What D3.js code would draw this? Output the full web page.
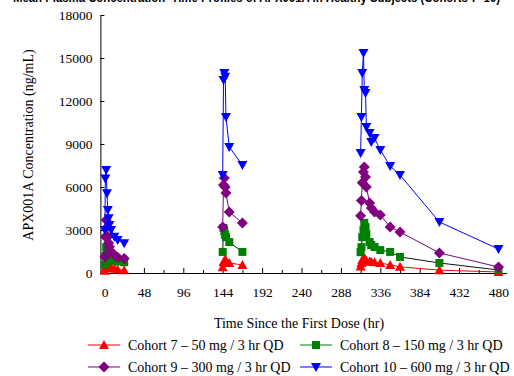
<!DOCTYPE html>
<html>
<head>
<meta charset="utf-8">
<script src="https://cdn.jsdelivr.net/npm/d3@7"></script>
<style>
  body { margin: 0; background: #fff; }
  svg { display: block; }
</style>
</head>
<body>
<svg id="chart"></svg>
<script>
// sampling times (hr since first dose), one list per dosing day
const day1Times = [0.5, 1, 2, 3, 4, 5, 6, 8, 12, 16, 24];
const day7Times = [144, 145, 146, 147, 148, 152, 168];
const day14Times = [312, 313, 314, 315.5, 316.5, 318, 319, 323, 325, 329, 336, 348, 360, 408, 480];

// cohort 7 - 50 mg
const c7Day1 = [150, 350, 500, 650, 600, 550, 450, 400, 300, 250, 200];
const c7Day7 = [400, 750, 850, 900, 880, 700, 560];
const c7Day14 = [450, 700, 900, 1000, 1050, 950, 850, 800, 780, 750, 700, 560, 430, 200, 70];
// cohort 8 - 150 mg
const c8Day1 = [600, 1200, 1800, 1600, 1400, 1250, 1100, 950, 850, 800, 750];
const c8Day7 = [1470, 3140, 2900, 2650, 2500, 2160, 1470];
const c8Day14 = [1450, 1800, 2500, 3000, 3500, 3200, 2700, 2160, 1950, 1810, 1600, 1470, 1120, 700, 210];
// cohort 9 - 300 mg
const c9Day1 = [1140, 2530, 3700, 3200, 2530, 2100, 1840, 1500, 1260, 1100, 1020];
const c9Day7 = [3210, 6140, 6630, 6000, 5580, 4260, 3490];
const c9Day14 = [4000, 5050, 6300, 7050, 7400, 6700, 6000, 4880, 4530, 4260, 4050, 3210, 2860, 1400, 420];
// cohort 10 - 600 mg
const c10Day1 = [3000, 6600, 7190, 5560, 4400, 3820, 3350, 3000, 2530, 2300, 2070];
const c10Day7 = [6840, 13470, 13950, 13700, 10880, 8790, 7530];
const c10Day14 = [8370, 10880, 13950, 15350, 12770, 12560, 10190, 9770, 9140, 9420, 8580, 7460, 6840, 3560, 1670];

const seriesNames = ["Cohort 7 \u2013 50 mg / 3 hr QD", "Cohort 8 \u2013 150 mg / 3 hr QD",
  "Cohort 9 \u2013 300 mg / 3 hr QD", "Cohort 10 \u2013 600 mg / 3 hr QD"];
const seriesValues = [
  [c7Day1, c7Day7, c7Day14],
  [c8Day1, c8Day7, c8Day14],
  [c9Day1, c9Day7, c9Day14],
  [c10Day1, c10Day7, c10Day14]
];
const xTicks = [0, 48, 96, 144, 192, 240, 288, 336, 384, 432, 480];
const yTicks = [0, 3000, 6000, 9000, 12000, 15000, 18000];

const width = 514;
const height = 376;
const colors = ["#ff0000", "#008000", "#800080", "#0000ff"];
const lineColors = ["#ff0000", "#111111", "#800080", "#0000ff"];
const serif = "'Liberation Serif', 'Times New Roman', serif";

const svg = d3.select("#chart").attr("width", width).attr("height", height);

// title (cut off at the top in the original)
svg.append("text")
  .attr("x", 13).attr("y", 2)
  .attr("textLength", 487).attr("lengthAdjust", "spacingAndGlyphs")
  .attr("font-family", "'Liberation Sans', Arial, sans-serif")
  .attr("font-weight", "bold").attr("font-size", 13)
  .text("Mean Plasma Concentration\u2013Time Profiles of APX001A in Healthy Subjects (Cohorts 7\u201310)");

const xScale = d3.scaleLinear().domain([-5, 490]).range([100.4, 506.7]);
const yScale = d3.scaleLinear().domain([0, 18000]).range([273, 15]);

// x axis with inside ticks (major 48, minor 24)
const gx = svg.append("g").attr("transform", `translate(0,${yScale(0)})`);
gx.call(d3.axisBottom(xScale).tickValues(d3.range(24, 490, 48)).tickSize(-3).tickFormat(""));
gx.call(g => g.select(".domain").remove());
const gx2 = svg.append("g").attr("transform", `translate(0,${yScale(0)})`);
gx2.call(d3.axisBottom(xScale).tickValues(xTicks).tickSizeInner(-5).tickSizeOuter(0).tickPadding(14));
gx2.selectAll("text").attr("font-family", serif).attr("font-size", 13.5).attr("fill", "#000");
svg.selectAll(".tick line").attr("stroke", "#000");

// y axis
const gy = svg.append("g").attr("transform", `translate(${xScale(-5)},0)`);
gy.call(d3.axisLeft(yScale).tickValues(yTicks).tickSizeInner(-4).tickSizeOuter(0).tickPadding(8).tickFormat(d3.format("d")));
gy.selectAll("text").attr("font-family", serif).attr("font-size", 13.5).attr("fill", "#000");
gy.selectAll(".tick line").attr("stroke", "#000");
svg.selectAll(".domain").attr("stroke", "#000");

// axis titles
svg.append("text")
  .attr("x", 299).attr("y", 328)
  .attr("text-anchor", "middle")
  .attr("font-family", serif).attr("font-size", 14)
  .text("Time Since the First Dose (hr)");
svg.append("text")
  .attr("transform", "translate(33,145) rotate(-90)")
  .attr("text-anchor", "middle")
  .attr("font-family", serif).attr("font-size", 14)
  .text("APX001A Concentration (ng/mL)");

// marker shapes
const markers = [
  "M0,-5L5,4L-5,4Z",
  "M-4,-4H4V4H-4Z",
  "M0,-5.5L5.5,0L0,5.5L-5.5,0Z",
  "M0,5L5,-4L-5,-4Z"
];

const line = d3.line().x(d => xScale(d[0])).y(d => yScale(d[1]));
const dayTimes = [day1Times, day7Times, day14Times];

const plot = svg.append("g");
seriesValues.forEach((days, si) => {
  const g = plot.append("g");
  days.forEach((vals, di) => {
    const pts = vals.map((v, i) => [dayTimes[di][i], v]);
    g.append("path")
      .attr("d", line(pts))
      .attr("fill", "none")
      .attr("stroke", lineColors[si])
      .attr("stroke-width", 1);
    g.selectAll(null)
      .data(pts)
      .enter()
      .append("path")
      .attr("d", markers[si])
      .attr("transform", d => `translate(${xScale(d[0])},${yScale(d[1])})`)
      .attr("fill", colors[si]);
  });
});

// legend
const legendPos = [[88, 345], [300, 345], [88, 367], [300, 367]];
seriesNames.forEach((name, i) => {
  const [lx, ly] = legendPos[i];
  const g = svg.append("g").attr("transform", `translate(${lx},${ly})`);
  g.append("line").attr("x1", 0).attr("x2", 32).attr("y1", 0).attr("y2", 0)
    .attr("stroke", colors[i]).attr("stroke-width", 1);
  g.append("path").attr("d", markers[i]).attr("transform", "translate(16,0)").attr("fill", colors[i]);
  g.append("text")
    .attr("x", 40).attr("y", 0).attr("dy", "0.35em")
    .attr("font-family", serif).attr("font-size", 14)
    .text(name);
});
</script>
</body>
</html>
